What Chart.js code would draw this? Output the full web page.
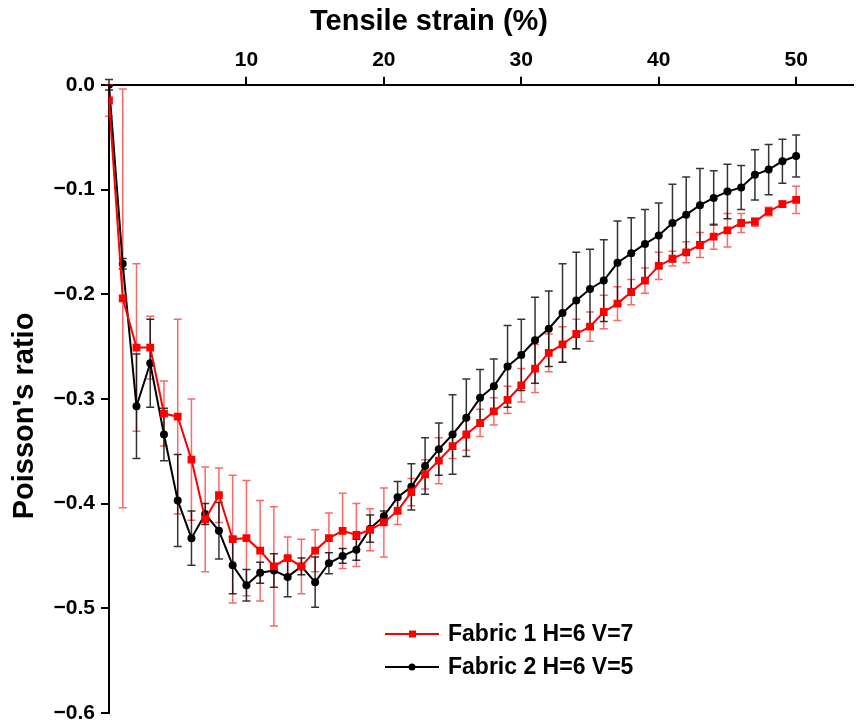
<!DOCTYPE html>
<html>
<head>
<meta charset="utf-8">
<script src="https://cdn.jsdelivr.net/npm/chart.js@4.4.0/dist/chart.umd.min.js"></script>
<style>
  body { margin: 0; background: #fff; }
  canvas { display: block; }
</style>
</head>
<body>
<canvas id="poissonChart" width="858" height="725"></canvas>
<script>
const strain = [0, 1, 2, 3, 4, 5, 6, 7, 8, 9, 10, 11, 12, 13, 14, 15, 16, 17, 18, 19, 20,
  21, 22, 23, 24, 25, 26, 27, 28, 29, 30, 31, 32, 33, 34, 35, 36, 37, 38, 39, 40,
  41, 42, 43, 44, 45, 46, 47, 48, 49, 50];

const fabric1 = [-0.015, -0.204, -0.251, -0.251, -0.314, -0.317, -0.358, -0.415, -0.392, -0.434, -0.433,
  -0.445, -0.460, -0.452, -0.460, -0.445, -0.433, -0.426, -0.430, -0.425, -0.418,
  -0.407, -0.389, -0.372, -0.359, -0.345, -0.334, -0.323, -0.312, -0.301, -0.287,
  -0.271, -0.256, -0.248, -0.238, -0.231, -0.217, -0.209, -0.198, -0.187, -0.173,
  -0.166, -0.160, -0.153, -0.145, -0.139, -0.132, -0.131, -0.121, -0.114, -0.110];
const fabric1Err = [0.015, 0.200, 0.080, 0.030, 0.031, 0.093, 0.058, 0.050, 0.026, 0.061, 0.055,
  0.048, 0.057, 0.020, 0.026, 0.020, 0.024, 0.036, 0.030, 0.020, 0.033,
  0.013, 0.013, 0.014, 0.022, 0.012, 0.015, 0.013, 0.013, 0.013, 0.016,
  0.023, 0.018, 0.017, 0.014, 0.014, 0.016, 0.016, 0.012, 0.012, 0.013,
  0.007, 0.010, 0.012, 0.012, 0.016, 0.009, 0.004, 0.004, 0.003, 0.013];

const fabric2 = [0.000, -0.171, -0.307, -0.266, -0.334, -0.397, -0.433, -0.410, -0.426, -0.459, -0.478,
  -0.466, -0.464, -0.470, -0.460, -0.475, -0.457, -0.450, -0.444, -0.424, -0.412,
  -0.394, -0.384, -0.364, -0.348, -0.334, -0.318, -0.299, -0.288, -0.269, -0.258,
  -0.244, -0.233, -0.218, -0.206, -0.195, -0.187, -0.170, -0.161, -0.152, -0.144,
  -0.132, -0.124, -0.115, -0.108, -0.102, -0.098, -0.086, -0.081, -0.073, -0.068];
const fabric2Err = [0.005, 0.005, 0.050, 0.042, 0.025, 0.044, 0.026, 0.010, 0.027, 0.027, 0.015,
  0.010, 0.016, 0.019, 0.008, 0.024, 0.010, 0.007, 0.010, 0.013, 0.005,
  0.015, 0.022, 0.027, 0.025, 0.038, 0.037, 0.027, 0.026, 0.039, 0.034,
  0.041, 0.036, 0.047, 0.046, 0.038, 0.039, 0.040, 0.034, 0.033, 0.031,
  0.037, 0.036, 0.035, 0.026, 0.026, 0.021, 0.024, 0.024, 0.021, 0.020];

const xTicks = [10, 20, 30, 40, 50];
const seriesLabels = ['Fabric 1 H=6 V=7', 'Fabric 2 H=6 V=5'];

const FONT = "'Liberation Sans', Arial, sans-serif";

const toPoints = (ys) => ys.map((y, i) => ({ x: strain[i], y: y }));

// error bars drawn from the error arrays with the chart's own scales
const errorBars = {
  id: 'errorBars',
  beforeDatasetsDraw(chart) {
    const ctx = chart.ctx;
    const xs = chart.scales.x;
    const ys = chart.scales.y;
    chart.data.datasets.forEach((ds) => {
      ctx.save();
      ctx.strokeStyle = ds.errColor;
      ctx.lineWidth = 1.5;
      ds.data.forEach((p, i) => {
        const e = ds.errors[i];
        const x = xs.getPixelForValue(p.x);
        const top = ys.getPixelForValue(p.y + e);
        const bot = ys.getPixelForValue(p.y - e);
        ctx.beginPath();
        ctx.moveTo(x, top);
        ctx.lineTo(x, bot);
        ctx.moveTo(x - 4, top);
        ctx.lineTo(x + 4, top);
        ctx.moveTo(x - 4, bot);
        ctx.lineTo(x + 4, bot);
        ctx.stroke();
      });
      ctx.restore();
    });
  }
};

// legend inside the plot and the rotated y title
const extras = {
  id: 'extras',
  afterDraw(chart) {
    const ctx = chart.ctx;
    ctx.save();
    ctx.font = 'bold 23px ' + FONT;
    ctx.textBaseline = 'middle';
    chart.data.datasets.forEach((ds, i) => {
      const y = 634 + i * 33;
      ctx.strokeStyle = ds.borderColor;
      ctx.lineWidth = 2;
      ctx.beginPath();
      ctx.moveTo(385, y);
      ctx.lineTo(439, y);
      ctx.stroke();
      ctx.fillStyle = ds.borderColor;
      if (ds.pointStyle === 'rect') {
        ctx.fillRect(409, y - 3.5, 7, 7);
      } else {
        ctx.beginPath();
        ctx.arc(412, y, 3.5, 0, Math.PI * 2);
        ctx.fill();
      }
      ctx.fillStyle = '#000';
      ctx.fillText(ds.label, 448, y + 1);
    });

    ctx.translate(33, 416);
    ctx.rotate(-Math.PI / 2);
    ctx.font = 'bold 29px ' + FONT;
    ctx.textAlign = 'center';
    ctx.textBaseline = 'alphabetic';
    ctx.fillStyle = '#000';
    ctx.fillText("Poisson's ratio", 0, 0);
    ctx.restore();
  }
};

new Chart(document.getElementById('poissonChart'), {
  type: 'line',
  data: {
    datasets: [
      {
        label: seriesLabels[0],
        data: toPoints(fabric1),
        errors: fabric1Err,
        errColor: 'rgba(255, 0, 0, 0.6)',
        borderColor: '#ff0000',
        backgroundColor: '#ff0000',
        borderWidth: 2,
        pointStyle: 'rect',
        pointRadius: 5.5,
        pointBorderWidth: 0,
      },
      {
        label: seriesLabels[1],
        data: toPoints(fabric2),
        errors: fabric2Err,
        errColor: 'rgba(0, 0, 0, 0.8)',
        borderColor: '#000000',
        backgroundColor: '#000000',
        borderWidth: 2,
        pointStyle: 'circle',
        pointRadius: 4,
        pointBorderWidth: 0,
      },
    ],
  },
  options: {
    responsive: false,
    animation: false,
    devicePixelRatio: 1,
    layout: { padding: { left: 0, right: 0, top: 0, bottom: 12 } },
    plugins: {
      legend: { display: false },
      tooltip: { enabled: false },
      title: {
        display: true,
        text: 'Tensile strain (%)',
        color: '#000',
        font: { family: FONT, size: 29, weight: 'bold' },
        padding: { top: 5, bottom: 0 },
      },
    },
    scales: {
      x: {
        type: 'linear',
        position: 'top',
        min: 0,
        max: 54.1,
        afterBuildTicks: (axis) => { axis.ticks = xTicks.map(v => ({ value: v })); },
        afterFit: (axis) => { axis.height = 45; },
        grid: { drawOnChartArea: false, color: '#000', lineWidth: 2, tickLength: 8 },
        border: { color: '#000', width: 2 },
        ticks: {
          color: '#000',
          padding: 4,
          maxRotation: 0,
          font: { family: FONT, size: 21, weight: 'bold' },
        },
      },
      y: {
        min: -0.6,
        max: 0,
        afterFit: (axis) => {
          axis.width = 109;
          axis.paddingTop = 0;
          axis.paddingBottom = 0;
        },
        grid: { drawOnChartArea: false, color: '#000', lineWidth: 2, tickLength: 8 },
        border: { color: '#000', width: 2 },
        ticks: {
          stepSize: 0.1,
          color: '#000',
          padding: 6,
          font: { family: FONT, size: 21, weight: 'bold' },
          callback: (v) => v.toFixed(1).replace('-', '\u2212'),
        },
      },
    },
  },
  plugins: [errorBars, extras],
});
</script>
</body>
</html>
